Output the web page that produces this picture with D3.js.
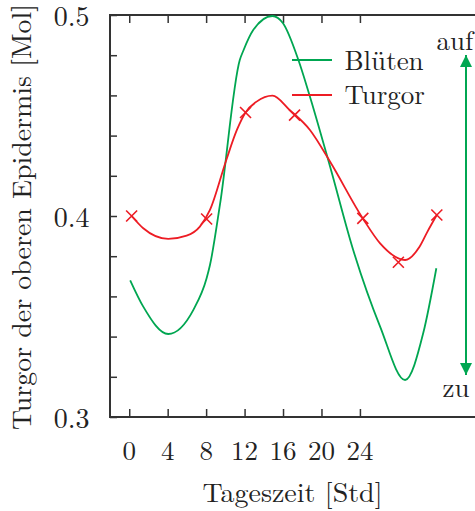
<!DOCTYPE html>
<html>
<head>
<meta charset="utf-8">
<script src="https://cdn.jsdelivr.net/npm/d3@7"></script>
<style>
  html, body { margin: 0; padding: 0; background: #fff; overflow: hidden; }
</style>
</head>
<body>
<svg id="chart" width="475" height="511"></svg>
<script>
// Turgor measurements (crosses) — hour of day and value
const turgorHours  = [0.25, 8.05, 12.1, 17.2, 24.3, 28.0, 32.0];
const turgorValues = [0.400, 0.3985, 0.4515, 0.4502, 0.3988, 0.377, 0.4005];

// Smoothed turgor course (red line)
const turgorFitHours  = [0.25, 1.46, 4.06, 5.97, 7.35, 8.4, 10.1, 11.2, 12.1, 13.25, 14.9, 16.7, 18.8, 20.9, 24.3, 26.1, 28.7, 30.2, 31.0, 32.0];
const turgorFitValues = [0.400, 0.3939, 0.3886, 0.3902, 0.3947, 0.403, 0.4279, 0.4428, 0.4515, 0.4569, 0.4599, 0.4527, 0.4428, 0.427, 0.3988, 0.3864, 0.3781, 0.3847, 0.392, 0.4005];

// Flower opening course (Blüten)
const bluetenHours  = [0.1, 1.46, 4.06, 6.66, 8.05, 8.4, 9.45, 11.5, 11.9, 12.9, 14.9, 16.0, 17.6, 18.7, 20.9, 23.3, 26.1, 28.7, 30.6, 31.95];
const bluetenValues = [0.368, 0.3549, 0.3413, 0.3532, 0.369, 0.3756, 0.406, 0.4776, 0.4826, 0.4925, 0.4995, 0.4959, 0.4776, 0.461, 0.4245, 0.3831, 0.345, 0.3184, 0.342, 0.374];

// Axis ticks
const xTickValues = [0, 4, 8, 12, 16, 20, 24];
const yTickValues = [0.3, 0.32, 0.34, 0.36, 0.38, 0.4, 0.42, 0.44, 0.46, 0.48, 0.5];
const yTickLabels = [0.3, 0.4, 0.5];

const seriesNames = ["Blüten", "Turgor"];
const GREEN = "#00a651";
const RED = "#ed1c24";
const SERIF = '"Latin Modern Roman", "Liberation Serif", serif';
const INK = "#222";

const svg = d3.select("#chart");

const x = d3.scaleLinear().domain([-2, 38]).range([110, 494.5]);
const y = d3.scaleLinear().domain([0.3, 0.5]).range([417, 15]);

const label = (sel, size) => sel.style("font-family", SERIF).style("font-size", size + "px").attr("fill", INK);

// Frame
svg.append("rect")
  .attr("x", x(-2)).attr("y", y(0.5))
  .attr("width", x(38) - x(-2)).attr("height", y(0.3) - y(0.5))
  .attr("fill", "none").attr("stroke", "#333").attr("stroke-width", 2);

// Inward ticks on all sides
const tickStyle = g => {
  g.select(".domain").remove();
  g.selectAll(".tick line").attr("stroke", "#333").attr("stroke-width", 1.5);
  g.selectAll(".tick text").remove();
};
svg.append("g").attr("transform", `translate(0,${y(0.3)})`)
  .call(d3.axisBottom(x).tickValues(xTickValues).tickSize(-8).tickFormat(""))
  .call(tickStyle);
svg.append("g").attr("transform", `translate(0,${y(0.5)})`)
  .call(d3.axisTop(x).tickValues(xTickValues).tickSize(-8).tickFormat(""))
  .call(tickStyle);
svg.append("g").attr("transform", `translate(${x(-2)},0)`)
  .call(d3.axisLeft(y).tickValues(yTickValues).tickSize(-7).tickFormat(""))
  .call(tickStyle);

// Tick labels
svg.append("g").selectAll("text").data(xTickValues).join("text")
  .attr("x", d => x(d)).attr("y", 459.5)
  .attr("text-anchor", "middle")
  .call(label, 27)
  .text(d => d);
svg.append("g").selectAll("text").data(yTickLabels).join("text")
  .attr("x", 89.5).attr("y", d => y(d) + 10.5)
  .attr("text-anchor", "end")
  .call(label, 28)
  .text(d => d.toFixed(1));

// Axis titles
svg.append("text")
  .attr("x", 202.5).attr("y", 502)
  .call(label, 27)
  .attr("textLength", 180).attr("lengthAdjust", "spacingAndGlyphs")
  .text("Tageszeit [Std]");
svg.append("text")
  .attr("transform", "translate(31,430) rotate(-90)")
  .attr("x", 0).attr("y", 0)
  .call(label, 27)
  .attr("textLength", 426).attr("lengthAdjust", "spacingAndGlyphs")
  .text("Turgor der oberen Epidermis [Mol]");

// Curves
const bluetenData = bluetenHours.map((h, i) => [h, bluetenValues[i]]);
const turgorFit = turgorFitHours.map((h, i) => [h, turgorFitValues[i]]);
const turgorData = turgorHours.map((h, i) => [h, turgorValues[i]]);
const line = d3.line().x(d => x(d[0])).y(d => y(d[1])).curve(d3.curveMonotoneX);

svg.append("path")
  .datum(bluetenData)
  .attr("fill", "none").attr("stroke", GREEN).attr("stroke-width", 1.8)
  .attr("d", line);

svg.append("path")
  .datum(turgorFit)
  .attr("fill", "none").attr("stroke", RED).attr("stroke-width", 1.8)
  .attr("d", line);

// Crosses at the turgor measurements
const cs = 5.5;
svg.append("g").selectAll("path").data(turgorData).join("path")
  .attr("transform", d => `translate(${x(d[0])},${y(d[1])})`)
  .attr("d", `M${-cs},${-cs}L${cs},${cs}M${-cs},${cs}L${cs},${-cs}`)
  .attr("stroke", RED).attr("stroke-width", 1.6).attr("fill", "none");

// Legend
const legend = svg.append("g");
const legendColors = [GREEN, RED];
const legendLineY = [60, 95];
const legendTextY = [70, 104];
seriesNames.forEach((name, i) => {
  legend.append("line")
    .attr("x1", 292).attr("x2", 332)
    .attr("y1", legendLineY[i]).attr("y2", legendLineY[i])
    .attr("stroke", legendColors[i]).attr("stroke-width", 1.8);
  legend.append("text")
    .attr("x", 344.5).attr("y", legendTextY[i])
    .call(label, 27)
    .text(name);
});

// Open / closed arrow
const defs = svg.append("defs");
defs.append("marker")
  .attr("id", "head").attr("viewBox", "0 0 12 12")
  .attr("refX", 12).attr("refY", 6)
  .attr("markerWidth", 12).attr("markerHeight", 12)
  .attr("markerUnits", "userSpaceOnUse")
  .attr("orient", "auto-start-reverse")
  .append("path").attr("d", "M0,0L12,6L0,12Z").attr("fill", GREEN);

svg.append("line")
  .attr("x1", 466).attr("x2", 466)
  .attr("y1", 55).attr("y2", 375)
  .attr("stroke", GREEN).attr("stroke-width", 2)
  .attr("marker-start", "url(#head)")
  .attr("marker-end", "url(#head)");

svg.append("text").attr("x", 436.5).attr("y", 50).call(label, 27).text("auf");
svg.append("text").attr("x", 442.5).attr("y", 397).call(label, 27).text("zu");
</script>
</body>
</html>
